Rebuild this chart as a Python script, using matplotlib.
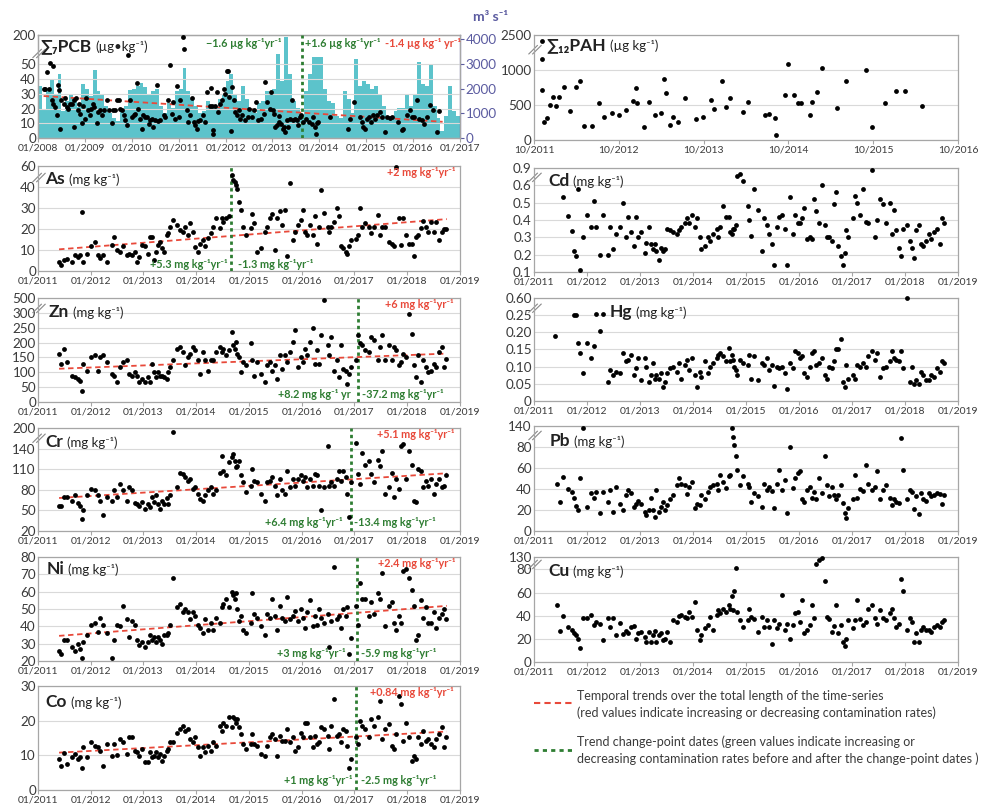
import numpy as np
import matplotlib
matplotlib.use("Agg")
import matplotlib.pyplot as plt
from matplotlib.lines import Line2D
from matplotlib.offsetbox import TextArea, HPacker, AnchoredOffsetbox

plt.rcParams['font.family'] = ['Lato', 'DejaVu Sans']

# ---- data ----
# sampling dates shared by the 2011-2018 sediment series (decimal years)
DATES = [2011.39, 2011.44, 2011.49, 2011.55, 2011.64, 2011.71, 2011.75, 2011.80, 2011.83, 2011.86, 2011.93,
         2012.00, 2012.08, 2012.13, 2012.18, 2012.24, 2012.30, 2012.40, 2012.44, 2012.49, 2012.55, 2012.62, 2012.68,
         2012.73, 2012.78, 2012.84, 2012.88, 2012.92, 2012.97,
         2013.02, 2013.09, 2013.12, 2013.17, 2013.20, 2013.24, 2013.28, 2013.31, 2013.35, 2013.39, 2013.44, 2013.47,
         2013.51, 2013.56, 2013.63, 2013.69, 2013.74, 2013.78, 2013.85, 2013.89, 2013.93, 2013.98,
         2014.03, 2014.08, 2014.13, 2014.16, 2014.23, 2014.28, 2014.32, 2014.38, 2014.45, 2014.48, 2014.51, 2014.57,
         2014.62, 2014.68, 2014.70, 2014.73, 2014.75, 2014.77, 2014.81, 2014.84, 2014.89, 2014.94,
         2015.03, 2015.06, 2015.10, 2015.15, 2015.23, 2015.30, 2015.34, 2015.40, 2015.44, 2015.49, 2015.53, 2015.58,
         2015.63, 2015.68, 2015.73, 2015.78, 2015.83, 2015.88, 2015.93, 2015.98,
         2016.02, 2016.06, 2016.10, 2016.16, 2016.21, 2016.25, 2016.29, 2016.33, 2016.37, 2016.43, 2016.49, 2016.52,
         2016.56, 2016.62, 2016.66, 2016.70, 2016.74, 2016.79, 2016.83, 2016.86, 2016.89, 2016.93,
         2017.02, 2017.06, 2017.10, 2017.15, 2017.20, 2017.27, 2017.31, 2017.37, 2017.44, 2017.48, 2017.53, 2017.58,
         2017.65, 2017.71, 2017.75, 2017.79, 2017.84, 2017.88, 2017.92, 2017.97,
         2018.04, 2018.09, 2018.13, 2018.17, 2018.21, 2018.26, 2018.30, 2018.35, 2018.40, 2018.45, 2018.50, 2018.55,
         2018.60, 2018.66, 2018.70, 2018.74]

nan = float('nan')

AS = [4.3, 3, 5, 5.6, 4.3, 7.5, 6.7, 7.5, 28, 4.3, 8.3,
      12, 13.6, 7.5, 6, 7.5, 4.3, 12.3, 16.3, 10, 9, 12, 7.5, 8.3, 7.5, 9, 4.3, 6.7, 12.3,
      12, 8, 16.3, 16, 5, 9, 12.3, 14, 10.7, 9, 17, 18, 21, 24.3, 22, 19.5, 18.7, 21, 17, 22.7, 18.7, 11.5,
      9, 13, 14.7, 12, 15.5, 18, 21, 25, 20.6, 25, 23.5, 25, 26, 51, 47, 45, 42, 39, 33, 29, 21, 17,
      20.3, 27, 22.7, 9, 10.7, 18.7, 21, 25, 27, 10, 25, 28.6, 22, 29, 7.2, 43.8, 14.7, 18.7, 22, 24.3,
      29, 18.7, 17, 22, 17, 26, 13, 21, 38.7, 27.5, 21, 18.7, 21, 23.5, 30, 26, 12, 10.7, 9, 8.3, 12, 14.7,
      15, 17, 30, 21, 22.7, 21, 18, 21, 26.7, 17, 21, 21, 14, 13, 12, 58.9, 25, 12.3, 25, 17,
      13, 13, 7.2, 16.3, 17, 20.6, 24, 21, 18.7, 23.5, 18.7, 23.5, 14.7, 18.7, 20, 20]

ZN = [162, 128, 180, 134, 89, 83, 77, 72, 37, 128, 106,
      151, 157, 106, 151, 159, 134, 94, 89, 66, 117, 134, 140, 94, 89, 100, 89, 66, 77,
      66, 83, 66, 128, 100, 83, 100, 89, 89, 83, 77, 100, 117, 140, 180, 185, 168, 123, 151, 162, 185, 174,
      140, 94, 168, 140, 106, 140, 140, 168, 185, 168, 180, 157, 174, 236, 191, 180, 202, 162, 151, 100, 134, 123,
      197, 140, 89, 134, 94, 66, 123, 134, 106, 123, 77, 157, 111, 157, 134, 168, 202, 242, 117, 151,
      134, 180, 157, 202, 248, 128, 174, 128, 225, 468, 191, 157, 219, 106, 140, 83, 191, 111, 106, 60, 94, 118,
      140, 225, 197, 191, 174, 168, 219, 208, 140, 185, 225, 140, 191, 140, 185, 174, 123, 134, 162, 151,
      295, 230, 123, 83, 157, 66, 140, 117, 100, 106, 128, 117, 168, 185, 117, 145]

CR = [57, 57, 69, 69, 63, 72, 61, 57, 38, 51, 72,
      81, 79, 72, 64, 43, 69, 64, 79, 69, 89, 79, 63, 84, 79, 61, 60, 57, 62,
      52, 60, 55, 69, 62, 72, 60, 52, 64, 60, 68, 60, 72, 188, 84, 105, 103, 98, 93, 96, 81, 84,
      74, 67, 64, 72, 79, 84, 74, 79, 105, 129, 108, 101, 120, 127, 132, 122, 113, 115, 122, 101, 91, 77,
      86, 110, 93, 91, 74, 64, 91, 93, 98, 86, 72, 96, 79, 74, 108, 84, 96, 86, 96, 101,
      93, 98, 84, 96, 86, 103, 101, 86, 50, 84, 148, 86, 91, 86, 96, 108, 93, 108, 98, 74, 40, 91,
      157, 103, 89, 134, 116, 122, 103, 91, 124, 115, 137, 74, 84, 105, 69, 96, 81, 148, 152, 96,
      137, 116, 64, 62, 110, 108, 84, 93, 86, 96, 74, 89, 96, 84, 86, 101]

NI = [26, 24, 32, 32, 28, 26, 30, 27, 22, 31, 35,
      41, 42, 37, 45, 41, 36, 22, 32, 41, 40, 52, 44, 34, 43, 41, 32, 29, 31,
      28, 31, 35, 32, 34, 31, 34, 32, 30, 35, 35, 36, 41, 68, 51, 53, 48, 50, 48, 44, 48, 46,
      41, 39, 36, 44, 38, 42, 38, 45, 42, 51, 53, 56, 51, 60, 58, 56, 59, 50, 43, 46, 38, 36,
      42, 59, 47, 45, 40, 35, 47, 45, 56, 46, 38, 52, 45, 43, 57, 44, 46, 49, 43, 50,
      45, 39, 48, 55, 40, 46, 41, 50, 45, 42, 47, 28, 43, 74, 44, 46, 39, 50, 46, 51, 24, 33,
      52, 41, 65, 56, 56, 46, 54, 47, 59, 56, 71, 40, 52, 54, 42, 38, 46, 42, 72, 73,
      68, 61, 52, 32, 35, 55, 45, 51, 42, 42, 48, 39, 45, 47, 50, 44]

CO = [9, 6.8, 10.8, 7.5, 9.4, 10.4, 9, 9.4, 6.5, 12.3, 9.4,
      13.8, 12.8, 12.3, 11.3, 7, 13.3, 9.9, 13.3, 10.2, 14.7, 13.8, 10.4, 15.2, 15.2, 11.3, 10.9, 9.9, 11.8,
      8, 8, 10.9, 9.4, 9.9, 10.9, 9.4, 10.4, 8.5, 9.9, 11.3, 11.8, 13.8, 13.8, 16.6, 17.6, 18.6, 17.1, 17.6, 14.7,
      13.8, 15.2,
      12.3, 9.9, 12.3, 10.9, 12.8, 11.3, 13.8, 12.8, 18.6, 17.1, 19.5, 18.6, 21, 18.1, 21, 20.5, 19.5, 20.5, 18.1,
      16.2, 13.3, 11.8,
      13.3, 16.2, 13.3, 12.8, 10.4, 9.9, 12.8, 15.2, 16.2, 14.7, 9.9, 15.7, 14.2, 14.2, 17.6, 13.8, 15.2, 11.3, 12.3,
      16.6,
      15.2, 19.5, 19.5, 15.2, 12.3, 15.7, 13.3, 13.8, 18.1, 17.6, 15.7, 11.8, 18.6, 26.3, 15.7, 16.2, 13.8, 17.6,
      17.1, 12.8, 6.5, 9,
      15.2, 13.3, 20, 18.6, 17.6, 15.2, 20.5, 18.6, 21, 25.8, 14.7, 17.6, 19, 12.8, 11.8, 16.2, 27.2, 24.8, 14.2, 19.5,
      15.2, 8.5, 9.9, 9, 15.2, 13.3, 17.1, 14.2, 14.7, 13.3, 12.3, 14.7, 16.2, 18.1, 12.3, 15.2]

CD = [nan, nan, nan, 0.53, 0.425, 0.335, 0.22, 0.19, 0.58, 0.11, 0.30,
      0.43, 0.36, 0.51, 0.36, 0.20, 0.43, 0.20, 0.36, 0.23, 0.32, 0.36, 0.50, 0.30, 0.42, 0.33, 0.25, 0.42, 0.30,
      0.33, 0.21, 0.27, 0.36, 0.26, 0.23, 0.26, 0.22, 0.17, 0.24, 0.22, 0.23, 0.35, 0.34, 0.33, 0.32, 0.34, 0.36,
      0.38, 0.41, 0.38, 0.43,
      0.36, 0.41, 0.30, 0.23, 0.25, 0.30, 0.28, 0.32, 0.35, 0.30, 0.36, 0.48, 0.42, 0.42, 0.33, 0.32, 0.35, 0.35,
      0.37, 0.77, 0.80, 0.67,
      0.48, 0.40, 0.31, 0.58, 0.46, 0.22, 0.41, 0.37, 0.32, 0.26, 0.14, 0.36, 0.42, 0.43, 0.35, 0.14, 0.53, 0.32,
      0.43, 0.38,
      0.38, 0.41, 0.47, 0.29, 0.30, 0.29, 0.52, 0.45, 0.38, 0.60, 0.37, 0.30, 0.30, 0.28, 0.49, 0.56, 0.25, 0.19,
      0.14, 0.21, 0.34, 0.30,
      0.41, 0.54, 0.50, 0.43, 0.58, 0.39, 0.38, 0.87, 0.30, 0.40, 0.52, 0.49, 0.38, 0.50, 0.32, 0.46, 0.34, 0.24,
      0.19, 0.35,
      0.37, 0.28, 0.24, 0.18, 0.34, 0.37, 0.26, 0.25, 0.28, 0.32, 0.29, 0.33, 0.35, 0.26, 0.41, 0.38]

HG = [0.19, nan, nan, nan, nan, nan, 0.255, 0.26, 0.17, 0.14, 0.08,
      0.17, 0.125, 0.16, 0.27, 0.205, 0.28, 0.055, 0.09, 0.075, 0.085, 0.08, 0.14, 0.115, 0.12, 0.135, 0.075,
      0.095, 0.125,
      0.06, 0.125, 0.1, 0.055, 0.075, 0.11, 0.065, 0.075, 0.065, 0.08, 0.04, 0.055, 0.08, 0.095, 0.1, 0.085, 0.11,
      0.065, 0.105, 0.12, 0.09, 0.125,
      0.075, 0.04, 0.085, 0.07, 0.115, 0.08, 0.1, 0.11, 0.125, 0.135, 0.14, 0.13, 0.115, 0.155, 0.115, 0.135, 0.12,
      0.1, 0.09, 0.075, 0.12, 0.11,
      0.105, 0.135, 0.065, 0.13, 0.06, 0.11, 0.105, 0.125, 0.09, 0.105, 0.045, 0.1, 0.095, 0.1, 0.08, 0.035, 0.11,
      0.095, 0.145, 0.14,
      0.125, 0.13, 0.08, 0.07, 0.1, 0.14, 0.145, 0.105, 0.11, 0.125, 0.075, 0.065, 0.1, 0.095, 0.115, 0.15, 0.15,
      0.18, 0.055, 0.04, 0.105, 0.065,
      0.075, 0.065, 0.105, 0.1, 0.11, 0.1, 0.13, 0.145, 0.12, 0.14, 0.07, 0.095, 0.1, 0.115, 0.145, 0.125, 0.12,
      0.115, 0.145, 0.095,
      0.6, 0.055, 0.1, 0.05, 0.06, 0.05, 0.085, 0.075, 0.06, 0.06, 0.075, 0.07, 0.095, 0.085, 0.115, 0.11]

PB = [nan, 45, 28, 51, 40, 37, 31, 24, 20, 50, 135,
      23, 36, 31, 37, 17, 37, 28, 39, 18, 42, 26, 20, 34, 39, 36, 23, 26, 29,
      26, 18, 15, 20, 31, 20, 13, 39, 18, 23, 28, 20, 25, 30, 34, 44, 50, 45, 44, 35, 42, 47,
      22, 26, 25, 34, 30, 37, 42, 44, 45, 39, 53, 47, 41, 52, 53, 134, 110, 87, 71, 58, 44, 52,
      45, 42, 28, 36, 33, 23, 45, 39, 42, 38, 22, 45, 58, 39, 49, 17, 81, 41, 50, 55,
      57, 30, 28, 39, 42, 31, 37, 30, 50, 36, 71, 44, 33, 42, 34, 30, 34, 44, 27, 17, 12, 22,
      30, 53, 31, 40, 38, 63, 45, 39, 42, 57, 30, 39, 44, 31, 25, 30, 28, 27, 106, 58,
      30, 39, 37, 21, 33, 16, 36, 30, 29, 36, 33, 34, 36, 35, 26, 34]

CU = [nan, 49, 27, 40, 30, 28, 25, 23, 20, 12, 38,
      38, 41, 32, 35, 33, 19, 38, 30, 38, 23, 34, 24, 27, 25, 30, 31, 20, 25,
      26, 22, 17, 26, 17, 23, 27, 17, 23, 25, 19, 20, 26, 17, 36, 35, 40, 41, 39, 38, 43, 39,
      52, 28, 19, 23, 29, 32, 39, 28, 41, 45, 42, 46, 43, 49, 46, 57, 45, 61, 87, 43, 36, 30,
      36, 46, 39, 37, 26, 39, 30, 36, 30, 16, 36, 29, 33, 58, 28, 33, 20, 32, 42, 43,
      35, 54, 25, 28, 32, 49, 38, 100, 120, 125, 70, 39, 37, 26, 31, 49, 25, 32, 17, 14, 20, 36,
      29, 36, 54, 37, 32, 35, 46, 49, 38, 33, 45, 38, 36, 42, 46, 38, 30, 33, 72, 61,
      28, 38, 35, 17, 25, 17, 28, 30, 28, 28, 26, 30, 32, 30, 35, 36]

# PCB series 2008-2016
PCB_T = [2008.12, 2008.16, 2008.19, 2008.23, 2008.26, 2008.30, 2008.32, 2008.33, 2008.37, 2008.40, 2008.42, 2008.44,
         2008.46, 2008.50, 2008.55, 2008.58, 2008.62, 2008.65, 2008.69, 2008.72, 2008.76, 2008.77, 2008.82, 2008.85,
         2008.87, 2008.90, 2008.94, 2008.97, 2009.01, 2009.03, 2009.06, 2009.10, 2009.13, 2009.17, 2009.20, 2009.26,
         2009.29, 2009.33, 2009.36, 2009.41, 2009.47, 2009.51, 2009.58, 2009.60, 2009.65, 2009.68, 2009.72, 2009.74,
         2009.79, 2009.83, 2009.86, 2009.90, 2009.93, 2009.97, 2010.00, 2010.04, 2010.07, 2010.11, 2010.14, 2010.18,
         2010.22, 2010.25, 2010.29, 2010.32, 2010.36, 2010.39, 2010.43, 2010.46, 2010.50, 2010.54, 2010.57, 2010.61,
         2010.68, 2010.71, 2010.78, 2010.82, 2010.86, 2010.89, 2010.93, 2010.96, 2011.00, 2011.03, 2011.09, 2011.12,
         2011.17, 2011.21, 2011.25, 2011.28, 2011.32, 2011.35, 2011.39, 2011.42, 2011.46, 2011.53, 2011.57, 2011.61,
         2011.66, 2011.69, 2011.71, 2011.73, 2011.74, 2011.78, 2011.81, 2011.85, 2011.88, 2011.92, 2011.96, 2011.99,
         2012.03, 2012.06, 2012.08, 2012.11, 2012.13, 2012.17, 2012.20, 2012.24, 2012.28, 2012.31, 2012.35, 2012.42,
         2012.47, 2012.51, 2012.56, 2012.60, 2012.65, 2012.70, 2012.75, 2012.81, 2012.84, 2012.88, 2012.94, 2012.96,
         2013.01, 2013.04, 2013.06, 2013.09, 2013.13, 2013.15, 2013.18, 2013.22, 2013.25, 2013.27, 2013.31, 2013.34,
         2013.38, 2013.41, 2013.43, 2013.48, 2013.52, 2013.55, 2013.59, 2013.62, 2013.66, 2013.72, 2013.77, 2013.84,
         2013.87, 2013.91, 2013.93, 2013.94, 2013.98, 2014.23, 2014.62, 2014.65, 2014.73, 2014.87, 2014.90, 2014.94,
         2014.97, 2015.01, 2015.05, 2015.10, 2015.14, 2015.19, 2015.22, 2015.29, 2015.33, 2015.40, 2015.45, 2015.51,
         2015.56, 2015.68, 2015.76, 2015.79, 2015.86, 2015.93, 2015.97, 2016.02, 2016.08, 2016.13, 2016.18, 2016.23,
         2016.29, 2016.36, 2016.43, 2016.50, 2016.56]
PCB_V = [33, 33, 45, 33, 55, 26, 49, 23, 21, 15.5, 36, 32.5,
         6.4, 26, 23, 27, 21, 20, 23, 23, 26, 7.5, 27, 19,
         23, 16.6, 10, 21.6, 13, 27, 19, 15.5, 20, 23, 21, 10,
         17.7, 19, 15.5, 19, 26, 19, 10, 19, 19, 26, 25.7, 20,
         19, 15.5, 12, 8.6, 98, 25.7, 14.3, 15.5, 16.6, 37.5, 20, 13,
         6.4, 15.5, 14.3, 14.3, 9.8, 12, 13, 7.5, 12, 36, 11.6, 12,
         15.5, 14.3, 25.7, 49.5, 16.6, 24.5, 13, 35, 14.3, 26, 192, 127,
         19, 11, 15.5, 27, 11, 8.6, 6.4, 11.6, 12, 15.5, 11, 31.4,
         21.6, 34, 21.6, 2.5, 5.2, 21.6, 31.4, 17.7, 23, 26, 33.6, 29.8,
         45.7, 45.7, 28, 4.8, 34.8, 25.7, 17.7, 15.5, 19, 13, 15.5, 12,
         14.3, 20, 14.3, 19, 24.5, 12, 13, 16.6, 38.2, 24.5, 20, 31.4,
         19, 16.6, 7.5, 8.6, 14.8, 11, 9.8, 6.4, 7.5, 4, 12, 7.5,
         13, 25.7, 12, 13, 12, 8.6, 14.3, 15.5, 11, 13, 11, 9.8,
         14.3, 7.5, 3, 10.2, 11, 14.3, 6.4, 13, 24.5, 14.3, 11, 7.5,
         6.4, 13, 14.3, 11, 15.5, 13, 15.5, 17.7, 14.3, 4, 14.3, 13.9,
         14.3, 11, 5.2, 6.4, 15.5, 19, 14.3, 14.3, 25.7, 13, 12, 9.3,
         14.3, 22.3, 19, 4, 18.4]

# monthly river discharge (m3/s), Jan 2008 .. Dec 2016
Q_START = 2008
Q_MONTHLY = [2100, 1150, 1900, 2400, 1800, 2600, 1100, 1500, 1800, 1500, 1250, 2200,
             2000, 1700, 2750, 1900, 1800, 1300, 1000, 800, 700, 1100, 1300, 1950,
             2000, 2100, 2250, 2050, 1800, 1900, 2000, 1300, 1000, 1400, 1200, 1900,
             2000, 2850, 1900, 1600, 1300, 1000, 1100, 1500, 1200, 1300, 1600, 1800,
             2300, 2600, 1800, 1500, 2100, 1600, 1200, 1000, 1400, 1500, 1900, 1800,
             2000, 3400, 2300, 4100, 2600, 1500, 1200, 900, 1900, 2600, 3300, 3300,
             3300, 2000, 1500, 1400, 900, 800, 1900, 1600, 1000, 3200, 2100, 2300,
             2200, 2000, 2100, 1800, 1300, 900, 800, 1100, 1200, 1200, 1800, 1300,
             1800, 3100, 2200, 2100, 3000, 1300, 800, 300, 900, 2100, 1100, 900]

PAH_T = [2011.84, 2011.85, 2011.85, 2011.87, 2011.90, 2011.94, 2011.97, 2012.01, 2012.04, 2012.10, 2012.17, 2012.25,
         2012.29, 2012.34, 2012.44, 2012.52, 2012.58, 2012.67, 2012.75, 2012.84, 2012.92, 2012.95, 2012.96, 2013.05,
         2013.11, 2013.18, 2013.25, 2013.28, 2013.31, 2013.35, 2013.39, 2013.45, 2013.53, 2013.66, 2013.74, 2013.84,
         2013.87, 2013.97, 2014.01, 2014.06, 2014.21, 2014.27, 2014.47, 2014.52, 2014.59, 2014.61, 2014.71, 2014.75,
         2014.82, 2014.86, 2014.90, 2015.01, 2015.03, 2015.09, 2015.15, 2015.32, 2015.43, 2015.67, 2015.74, 2015.89,
         2016.02, 2016.13, 2016.33]
PAH_V = [2257, 1470, 714, 262, 310, 500, 610, 486, 610, 752, 419, 752,
         843, 200, 200, 524, 333, 381, 357, 429, 562, 738, 524, 190,
         548, 352, 381, 867, 667, 214, 333, 262, 600, 305, 333, 576,
         443, 848, 467, 595, 400, 548, 357, 367, 319, 71, 648, 1257,
         648, 524, 524, 352, 548, 681, 1100, 452, 843, 1000, 181, 524,
         705, 705, 490]

# trend lines (start, end) and change-point dates
TRENDS = {'PCB': [(2008.12, 28.5), (2016.63, 11)],
          'As': [(2011.4, 10.3), (2018.75, 24.7)],
          'Zn': [(2011.4, 112), (2018.75, 163)],
          'Cr': [(2011.4, 68), (2018.75, 104)],
          'Ni': [(2011.4, 34.5), (2018.75, 51.8)],
          'Co': [(2011.4, 10.8), (2018.75, 16.9)]}
CHANGE_POINTS = {'PCB': 2013.63, 'As': 2014.66, 'Zn': 2017.06, 'Cr': 2016.93, 'Ni': 2017.04, 'Co': 2017.03}

RATE_RED = {'PCB': '-1.4 µg kg⁻¹ yr⁻¹', 'As': '+2 mg kg⁻¹yr⁻¹', 'Zn': '+6 mg kg⁻¹yr⁻¹',
            'Cr': '+5.1 mg kg⁻¹yr⁻¹', 'Ni': '+2.4 mg kg⁻¹yr⁻¹', 'Co': '+0.84 mg kg⁻¹yr⁻¹'}
RATE_BEFORE = {'PCB': '−1.6 µg kg⁻¹yr⁻¹', 'As': '+5.3 mg kg⁻¹yr⁻¹', 'Zn': '+8.2 mg kg⁻¹ yr',
               'Cr': '+6.4 mg kg⁻¹yr⁻¹', 'Ni': '+3 mg kg⁻¹yr⁻¹', 'Co': '+1 mg kg⁻¹yr⁻¹'}
RATE_AFTER = {'PCB': '+1.6 µg kg⁻¹yr⁻¹', 'As': '-1.3 mg kg⁻¹yr⁻¹', 'Zn': '-37.2 mg kg⁻¹yr⁻¹',
              'Cr': '-13.4 mg kg⁻¹yr⁻¹', 'Ni': '-5.9 mg kg⁻¹yr⁻¹', 'Co': '-2.5 mg kg⁻¹yr⁻¹'}

# ---- styling ----
RED = '#E8493A'
GREEN = '#2E7D32'
FRAME = '#A6A6A6'
GRID = '#D9D9D9'
TXT = '#3A3A3A'
TEAL = '#5CC3CB'
PURPLE = '#5B5BA0'


def broken(cut, k):
    # linear below the cut, compressed by k above it
    def fwd(y):
        y = np.asarray(y, float)
        return np.where(y <= cut, y, cut + (y - cut) / k)

    def inv(t):
        t = np.asarray(t, float)
        return np.where(t <= cut, t, cut + (t - cut) * k)
    return fwd, inv


fig = plt.figure(figsize=(9.81, 8.05), dpi=100)

LX, LW = 0.0387, 0.4302
RX, RW = 0.5443, 0.4322
YEARS_L = list(range(2011, 2020))
LBL_L = ['01/%d' % y for y in YEARS_L]


def panel(rect, xlim, xticks, xlabels, ylim, yticks, ylabels, brk=None, brk_y=0.9):
    ax = fig.add_axes(rect)
    if brk:
        ax.set_yscale('function', functions=broken(*brk))
    ax.set_xlim(xlim)
    ax.set_ylim(ylim)
    ax.set_xticks(xticks)
    ax.set_xticklabels(xlabels, fontsize=7.5, color=TXT)
    ax.set_yticks(yticks)
    ax.set_yticklabels(ylabels, fontsize=9.7, color=TXT)
    ax.minorticks_off()
    ax.yaxis.grid(True, color=GRID, lw=0.8)
    ax.set_axisbelow(True)
    for s in ax.spines.values():
        s.set_color(FRAME)
        s.set_linewidth(0.9)
    ax.tick_params(axis='y', length=0, pad=1.5)
    ax.tick_params(axis='x', length=3, color=FRAME, pad=0.8)
    if brk:
        for dx in (0.0, 0.009):
            ax.plot([-0.012 + dx, 0.008 + dx], [brk_y - 0.04, brk_y + 0.04], transform=ax.transAxes,
                    color='#888888', lw=0.8, clip_on=False)
    return ax


def title(ax, bold, rest, x, y):
    box = HPacker(children=[TextArea(bold, textprops=dict(fontsize=12.5, fontweight='bold', color='#222222')),
                            TextArea(rest, textprops=dict(fontsize=9.5, color='#222222'))],
                  pad=0, sep=3, align='baseline')
    ab = AnchoredOffsetbox(loc='upper left', child=box, pad=0, borderpad=0, frameon=False,
                           bbox_to_anchor=(x, y), bbox_transform=ax.transAxes)
    ax.add_artist(ab)


def dots(ax, x, y):
    ax.scatter(x, y, s=12, c='black', linewidths=0, zorder=4, clip_on=False)


def trend(ax, key, red_y, grn_y, grn_left_end, grn_right_start, red_right=0.99, red_left=None):
    (x0, y0), (x1, y1) = TRENDS[key]
    ax.plot([x0, x1], [y0, y1], color=RED, ls=(0, (3, 2)), lw=1.3, zorder=3)
    ax.axvline(CHANGE_POINTS[key], color=GREEN, ls=(0, (1.2, 1.2)), lw=2.0, zorder=3)
    kw = dict(transform=ax.transAxes, fontsize=7.8, fontweight='bold', va='center', zorder=5)
    if red_left is None:
        ax.text(red_right, red_y, RATE_RED[key], color=RED, ha='right', **kw)
    else:
        ax.text(red_left, red_y, RATE_RED[key], color=RED, ha='left', **kw)
    ax.text(grn_left_end, grn_y, RATE_BEFORE[key], color=GREEN, ha='right', **kw)
    ax.text(grn_right_start, grn_y, RATE_AFTER[key], color=GREEN, ha='left', **kw)


n = len(DATES)

# ---- PCB with discharge bars ----
ax = panel([LX, 0.8286, LW, 0.1280], (2008, 2017), list(range(2008, 2018)),
           ['01/%d' % y for y in range(2008, 2018)], (0, 200), [0, 10, 20, 30, 40, 50, 200],
           ['0', '10', '20', '30', '40', '50', '200'], brk=(50, 7.5), brk_y=0.82)
ax2 = ax.twinx()
months = Q_START + np.arange(len(Q_MONTHLY)) / 12.0
ax2.bar(months, Q_MONTHLY, width=1 / 12.0, align='edge', color=TEAL, linewidth=0)
ax2.set_ylim(0, 4180)
ax2.set_yticks([0, 1000, 2000, 3000, 4000])
ax2.set_yticklabels(['0', '1000', '2000', '3000', '4000'], fontsize=9.7, color=PURPLE)
ax2.tick_params(axis='y', length=3, color=PURPLE, pad=1)
for s in ax2.spines.values():
    s.set_color(FRAME)
    s.set_linewidth(0.9)
ax2.spines['right'].set_color(PURPLE)
ax.set_zorder(ax2.get_zorder() + 1)
ax.patch.set_visible(False)
dots(ax, PCB_T, PCB_V)
trend(ax, 'PCB', 0.92, 0.92, 0.578, 0.632, red_left=0.822)
title(ax, '∑₇PCB', '(µg•kg⁻¹)', 0.005, 0.97)
fig.text(0.4995, 0.979, 'm³ s⁻¹', color=PURPLE, fontsize=10, fontweight='bold', ha='center', va='center')

# ---- left column metals ----
ax = panel([LX, 0.6634, LW, 0.1304], (2011, 2019), YEARS_L, LBL_L, (0, 60),
           [0, 10, 20, 30, 40, 60], ['0', '10', '20', '30', '40', '60'], brk=(40, 2), brk_y=0.89)
dots(ax, DATES[:n], AS[:n])
trend(ax, 'As', 0.935, 0.065, 0.45, 0.474)
title(ax, 'As', '(mg kg⁻¹)', 0.017, 0.95)

ax = panel([LX, 0.5006, LW, 0.1292], (2011, 2019), YEARS_L, LBL_L, (0, 500),
           [0, 50, 100, 150, 200, 250, 300, 500], ['0', '50', '100', '150', '200', '250', '300', '500'],
           brk=(300, 4), brk_y=0.9)
dots(ax, DATES[:n], ZN[:n])
trend(ax, 'Zn', 0.94, 0.075, 0.742, 0.768, red_right=0.986)
title(ax, 'Zn', '(mg kg⁻¹)', 0.025, 0.94)

ax = panel([LX, 0.3404, LW, 0.1280], (2011, 2019), YEARS_L, LBL_L, (20, 200),
           [20, 50, 80, 110, 140, 200], ['20', '50', '80', '110', '140', '200'], brk=(140, 2), brk_y=0.9)
dots(ax, DATES[:n], CR[:n])
trend(ax, 'Cr', 0.935, 0.08, 0.722, 0.748, red_right=0.986)
title(ax, 'Cr', '(mg kg⁻¹)', 0.017, 0.94)

ax = panel([LX, 0.1789, LW, 0.1292], (2011, 2019), YEARS_L, LBL_L, (20, 80),
           [20, 30, 40, 50, 60, 70, 80], ['20', '30', '40', '50', '60', '70', '80'])
dots(ax, DATES[:n], NI[:n])
trend(ax, 'Ni', 0.935, 0.07, 0.73, 0.765)
title(ax, 'Ni', '(mg kg⁻¹)', 0.02, 0.96)

ax = panel([LX, 0.0186, LW, 0.1290], (2011, 2019), YEARS_L, LBL_L, (0, 30),
           [0, 10, 20, 30], ['0', '10', '20', '30'])
dots(ax, DATES[:n], CO[:n])
trend(ax, 'Co', 0.935, 0.09, 0.746, 0.765, red_right=0.985)
title(ax, 'Co', '(mg kg⁻¹)', 0.017, 0.92)

# ---- right column ----
pah_ticks = [2011.75 + k for k in range(6)]
ax = panel([RX, 0.8261, RW, 0.1304], (2011.75, 2016.75), pah_ticks, ['10/%d' % int(t) for t in pah_ticks],
           (0, 2500), [0, 500, 1000, 2500], ['0', '500', '1000', '2500'], brk=(1000, 3), brk_y=0.86)
dots(ax, PAH_T, PAH_V)
title(ax, '∑₁₂PAH', '(µg kg⁻¹)', 0.03, 0.98)

ax = panel([RX, 0.6621, RW, 0.1292], (2011, 2019), YEARS_L, LBL_L, (0.1, 0.9),
           [0.1, 0.2, 0.3, 0.4, 0.5, 0.6, 0.9], ['0.1', '0.2', '0.3', '0.4', '0.5', '0.6', '0.9'],
           brk=(0.6, 3), brk_y=0.91)
dots(ax, DATES[:n], CD[:n])
title(ax, 'Cd', '(mg kg⁻¹)', 0.033, 0.95)

ax = panel([RX, 0.5019, RW, 0.1280], (2011, 2019), YEARS_L, LBL_L, (0, 0.6),
           [0, 0.05, 0.10, 0.15, 0.20, 0.25, 0.60], ['0', '0.05', '0.10', '0.15', '0.20', '0.25', '0.60'],
           brk=(0.25, 7), brk_y=0.9)
dots(ax, DATES[:n], HG[:n])
title(ax, 'Hg', '(mg kg⁻¹)', 0.178, 0.94)

ax = panel([RX, 0.3404, RW, 0.1304], (2011, 2019), YEARS_L, LBL_L, (0, 140),
           [0, 20, 40, 60, 80, 140], ['0', '20', '40', '60', '80', '140'], brk=(80, 3), brk_y=0.91)
dots(ax, DATES[:n], PB[:n])
title(ax, 'Pb', '(mg kg⁻¹)', 0.037, 0.93)

ax = panel([RX, 0.1776, RW, 0.1304], (2011, 2019), YEARS_L, LBL_L, (0, 130),
           [0, 20, 40, 60, 80, 130], ['0', '20', '40', '60', '80', '130'], brk=(80, 4.67), brk_y=0.93)
dots(ax, DATES[:n], CU[:n])
title(ax, 'Cu', '(mg kg⁻¹)', 0.033, 0.94)

# ---- legend block ----
W, H = 981.0, 805.0
fig.add_artist(Line2D([534 / W, 573 / W], [1 - 703 / H] * 2, color=RED, ls=(0, (3, 2)), lw=1.5))
fig.add_artist(Line2D([534 / W, 573 / W], [1 - 750 / H] * 2, color=GREEN, ls=(0, (1.5, 1.5)), lw=2))
leg_kw = dict(fontsize=9, color=TXT, va='center', ha='left')
fig.text(577 / W, 1 - 696 / H, 'Temporal trends over the total length of the time-series', **leg_kw)
fig.text(577 / W, 1 - 713 / H, '(red values indicate increasing or decreasing contamination rates)', **leg_kw)
fig.text(577 / W, 1 - 742 / H, 'Trend change-point dates (green values indicate increasing or', **leg_kw)
fig.text(577 / W, 1 - 759 / H, 'decreasing contamination rates before and after the change-point dates )', **leg_kw)

fig.savefig('out.png', dpi=100)
